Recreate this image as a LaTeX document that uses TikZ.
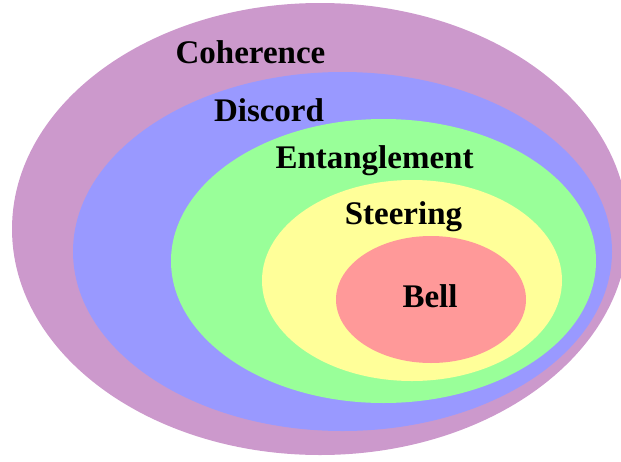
\documentclass[tikz,border=0pt]{standalone}
\usepackage{fontspec}
\setmainfont{Liberation Serif}
\definecolor{cpurple}{HTML}{CC99CC}
\definecolor{cblue}{HTML}{9999FF}
\definecolor{cgreen}{HTML}{99FF99}
\definecolor{cyellow}{HTML}{FFFF99}
\definecolor{cred}{HTML}{FF9999}
\tikzset{
  lbl/.style={anchor=base, inner sep=0pt, font=\fontsize{33}{36}\selectfont\bfseries}
}
\begin{document}
\begin{tikzpicture}[x=1pt,y=-1pt]
\useasboundingbox (0,0) rectangle (621,461);
\clip (0,0) rectangle (621,461);
\fill[cpurple] (320,229) ellipse [x radius=308pt, y radius=226pt];
\fill[cblue] (342.5,251.5) ellipse [x radius=269.5pt, y radius=179.5pt];
\fill[cgreen] (383.5,261) ellipse [x radius=212.5pt, y radius=142pt];
\fill[cyellow] (412,280.5) ellipse [x radius=150pt, y radius=100.5pt];
\fill[cred] (431,299.5) ellipse [x radius=95pt, y radius=63.5pt];
\node[lbl] (coh) at (250.5,63) {Coherence};
\node[lbl] (dis) at (269,121) {Discord};
\node[lbl] (ent) at (374.5,168) {Entanglement};
\node[lbl] (ste) at (403.5,224) {Steering};
\node[lbl] (bel) at (430,307) {Bell};
\end{tikzpicture}
\end{document}
